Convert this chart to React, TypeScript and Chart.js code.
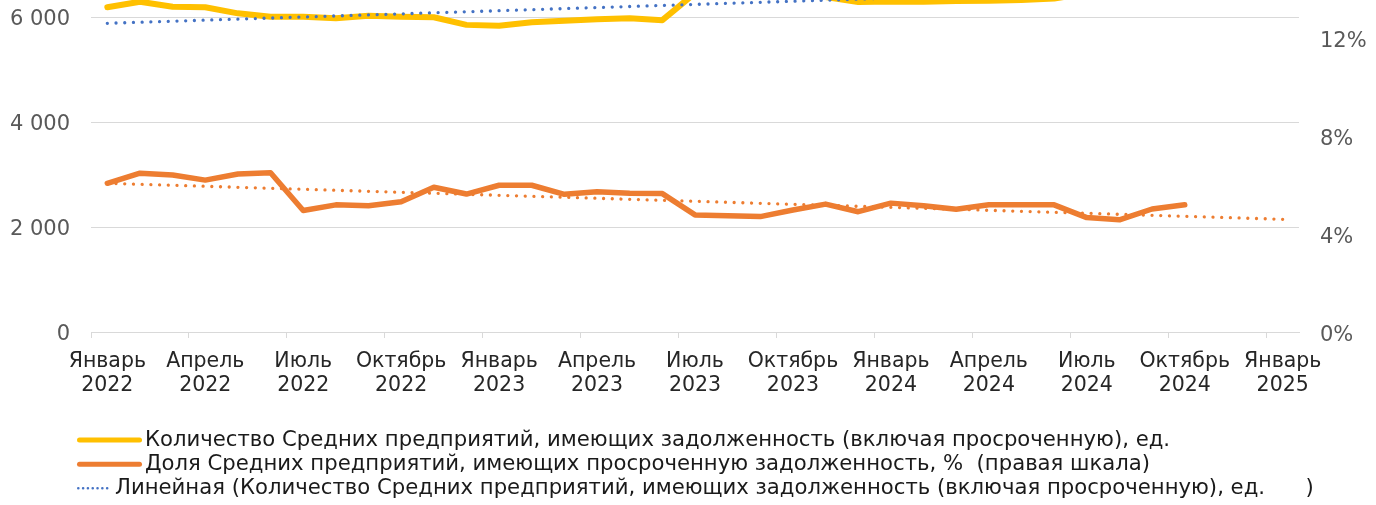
import React, { useEffect, useRef } from 'react';
import { Chart, registerables } from 'chart.js';

Chart.register(...registerables);

// ---- Data ----
const categories: string[] = [
  'Январь 2022', 'Февраль 2022', 'Март 2022', 'Апрель 2022', 'Май 2022', 'Июнь 2022',
  'Июль 2022', 'Август 2022', 'Сентябрь 2022', 'Октябрь 2022', 'Ноябрь 2022', 'Декабрь 2022',
  'Январь 2023', 'Февраль 2023', 'Март 2023', 'Апрель 2023', 'Май 2023', 'Июнь 2023',
  'Июль 2023', 'Август 2023', 'Сентябрь 2023', 'Октябрь 2023', 'Ноябрь 2023', 'Декабрь 2023',
  'Январь 2024', 'Февраль 2024', 'Март 2024', 'Апрель 2024', 'Май 2024', 'Июнь 2024',
  'Июль 2024', 'Август 2024', 'Сентябрь 2024', 'Октябрь 2024', 'Ноябрь 2024', 'Декабрь 2024',
  'Январь 2025',
];

// Количество Средних предприятий, имеющих задолженность (левая шкала), ед.
const countWithDebt: number[] = [
  6185, 6290, 6195, 6185, 6070, 6005, 6005, 5975, 6025, 6005, 5995, 5850,
  5835, 5900, 5930, 5955, 5975, 5940, 6455, 6480, 6500, 6470, 6380, 6285,
  6295, 6290, 6305, 6310, 6325, 6350, 6450, 6500, 6540, 6580,
];

// Доля Средних предприятий, имеющих просроченную задолженность, % (правая шкала)
const overdueShare: number[] = [
  6.07, 6.48, 6.41, 6.2, 6.45, 6.5, 4.96, 5.19, 5.15, 5.32, 5.91, 5.63,
  5.99, 5.99, 5.62, 5.72, 5.66, 5.65, 4.78, 4.74, 4.71, 4.98, 5.22, 4.91,
  5.26, 5.15, 5.01, 5.19, 5.19, 5.19, 4.67, 4.58, 5.02, 5.19,
];

// Linear trendlines: values at first and last category
const countTrendEnds: number[] = [5880, 6600];
const shareTrendEnds: number[] = [6.07, 4.6];

const leftTicks: number[] = [0, 2000, 4000, 6000];
const rightTicks: number[] = [0, 4, 8, 12];
const LEFT_MAX = 7000;
const RIGHT_MAX = 15;

const LABEL_COUNT = 'Количество Средних предприятий, имеющих задолженность (включая просроченную), ед.';
const LABEL_SHARE = 'Доля Средних предприятий, имеющих просроченную задолженность, %  (правая шкала)';
const LABEL_TREND = 'Линейная (Количество Средних предприятий, имеющих задолженность (включая просроченную), ед.      )';
const LABEL_SHARE_TREND = 'Линейная (Доля Средних предприятий, имеющих просроченную задолженность, %)';

// ---- Styles ----
const FONT = '"DejaVu Sans", Verdana, sans-serif';
const YELLOW = '#FFC000';
const ORANGE = '#ED7D31';
const BLUE = '#4472C4';
const GRID = '#D9D9D9';

const endsToLine = (ends: number[]) =>
  categories.map((_, i) => (i === 0 ? ends[0] : i === categories.length - 1 ? ends[1] : null));

const fmtThousands = (v: number) => String(v).replace(/\B(?=(\d{3})+(?!\d))/g, ' ');

const legendPlugin = {
  id: 'excelLegend',
  afterDraw(chart: any) {
    const ctx = chart.ctx as CanvasRenderingContext2D;
    const base = chart.chartArea.bottom;
    const rows = [
      { text: LABEL_COUNT, color: YELLOW, x0: 77, x1: 142, tx: 145, width: 5, dotted: false, dy: 108 },
      { text: LABEL_SHARE, color: ORANGE, x0: 77, x1: 142, tx: 145, width: 5, dotted: false, dy: 132.2 },
      { text: LABEL_TREND, color: BLUE, x0: 77, x1: 111, tx: 115, width: 2.6, dotted: true, dy: 156.3 },
    ];
    ctx.save();
    ctx.font = `21.2px ${FONT}`;
    ctx.textBaseline = 'middle';
    ctx.textAlign = 'left';
    rows.forEach((r) => {
      const y = base + r.dy;
      ctx.beginPath();
      ctx.strokeStyle = r.color;
      ctx.lineWidth = r.width;
      ctx.lineCap = 'round';
      if (r.dotted) {
        ctx.setLineDash([0.01, 4.8]);
        ctx.moveTo(r.x0 + 1.3, y);
        ctx.lineTo(r.x1, y);
      } else {
        ctx.setLineDash([]);
        ctx.moveTo(r.x0 + r.width / 2, y);
        ctx.lineTo(r.x1 - r.width / 2, y);
      }
      ctx.stroke();
      ctx.setLineDash([]);
      ctx.fillStyle = '#1a1a1a';
      ctx.fillText(r.text, r.tx, y);
    });
    ctx.restore();
  },
};

export default function App() {
  const canvasRef = useRef<HTMLCanvasElement | null>(null);

  useEffect(() => {
    if (!canvasRef.current) return;
    const chart = new Chart(canvasRef.current, {
      type: 'line',
      data: {
        labels: categories,
        datasets: [
          {
            label: LABEL_TREND,
            data: endsToLine(countTrendEnds),
            yAxisID: 'y',
            borderColor: BLUE,
            borderWidth: 3.3,
            borderDash: [0.01, 8.7],
            borderCapStyle: 'round',
            spanGaps: true,
            pointRadius: 0,
            pointHoverRadius: 0,
            tension: 0,
            fill: false,
            order: 1,
          },
          {
            label: LABEL_SHARE_TREND,
            data: endsToLine(shareTrendEnds),
            yAxisID: 'y1',
            borderColor: ORANGE,
            borderWidth: 3.3,
            borderDash: [0.01, 8.7],
            borderCapStyle: 'round',
            spanGaps: true,
            pointRadius: 0,
            pointHoverRadius: 0,
            tension: 0,
            fill: false,
            order: 1,
          },
          {
            label: LABEL_COUNT,
            data: countWithDebt,
            yAxisID: 'y',
            borderColor: YELLOW,
            borderWidth: 6,
            borderCapStyle: 'round',
            borderJoinStyle: 'round',
            pointRadius: 0,
            pointHoverRadius: 0,
            tension: 0,
            fill: false,
            order: 2,
          },
          {
            label: LABEL_SHARE,
            data: overdueShare,
            yAxisID: 'y1',
            borderColor: ORANGE,
            borderWidth: 5.5,
            borderCapStyle: 'round',
            borderJoinStyle: 'round',
            pointRadius: 0,
            pointHoverRadius: 0,
            tension: 0,
            fill: false,
            order: 2,
          },
        ],
      },
      options: {
        responsive: false,
        animation: false,
        devicePixelRatio: 1,
        events: [],
        layout: { padding: { top: 44.5, bottom: 82, left: 0, right: 0 } },
        plugins: {
          legend: { display: false },
          tooltip: { enabled: false },
          title: { display: false },
        },
        scales: {
          x: {
            type: 'category',
            offset: true,
            grid: {
              offset: true,
              drawOnChartArea: false,
              drawTicks: true,
              tickLength: 6,
              lineWidth: 1,
              color: (c: any) => (typeof c.index === 'number' && c.index % 3 === 0 ? GRID : 'rgba(0,0,0,0)'),
            },
            border: { display: true, color: GRID, width: 1 },
            ticks: {
              autoSkip: false,
              maxRotation: 0,
              minRotation: 0,
              padding: 11,
              color: '#262626',
              font: { family: FONT, size: 20.5, lineHeight: 1.2 },
              callback: (_v: any, index: number) =>
                index % 3 === 0 ? categories[index].split(' ') : '',
            },
            afterFit: (scale: any) => {
              scale.height = 92;
            },
          },
          y: {
            type: 'linear',
            position: 'left',
            min: 0,
            max: LEFT_MAX,
            grid: { color: GRID, lineWidth: 1, drawTicks: false },
            border: { display: false },
            ticks: {
              padding: 21,
              labelOffset: 3,
              color: '#595959',
              font: { family: FONT, size: 21 },
              callback: (v: any) => fmtThousands(Number(v)),
            },
            afterBuildTicks: (scale: any) => {
              scale.ticks = leftTicks.map((v) => ({ value: v }));
            },
            afterFit: (scale: any) => {
              scale.width = 91;
            },
          },
          y1: {
            type: 'linear',
            position: 'right',
            min: 0,
            max: RIGHT_MAX,
            grid: { drawOnChartArea: false, drawTicks: false },
            border: { display: false },
            ticks: {
              padding: 21,
              labelOffset: 3.5,
              color: '#595959',
              font: { family: FONT, size: 21 },
              callback: (v: any) => `${v}%`,
            },
            afterBuildTicks: (scale: any) => {
              scale.ticks = rightTicks.map((v) => ({ value: v }));
            },
            afterFit: (scale: any) => {
              scale.width = 77;
            },
          },
        },
      },
      plugins: [legendPlugin],
    } as any);
    return () => chart.destroy();
  }, []);

  return (
    <div
      style={{
        position: 'fixed',
        left: 0,
        top: 0,
        width: 1376,
        height: 505,
        overflow: 'hidden',
        background: '#ffffff',
      }}
    >
      <div style={{ position: 'absolute', left: 0, top: -80, width: 1376, height: 586 }}>
        <canvas ref={canvasRef} width={1376} height={586} style={{ display: 'block' }} />
      </div>
    </div>
  );
}
